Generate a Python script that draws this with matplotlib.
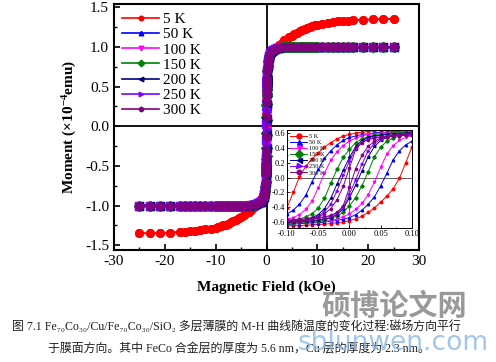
import numpy as np
import matplotlib.pyplot as plt
from matplotlib.ticker import MultipleLocator

plt.rcParams['font.family'] = ['Liberation Serif', 'Noto Sans CJK SC', 'DejaVu Sans']
plt.rcParams['axes.unicode_minus'] = False
plt.rcParams['mathtext.fontset'] = 'custom'
plt.rcParams['mathtext.rm'] = 'Liberation Serif'
plt.rcParams['mathtext.bf'] = 'Liberation Serif:bold'

temps = ['5 K', '50 K', '100 K', '150 K', '200 K', '250 K', '300 K']
colors = ['#ff0000', '#0000ff', '#ff00ff', '#008000', '#000080', '#7f00ff', '#800080']
markers = ['o', '^', 'v', 'D', '<', '>', 'h']

# high-field part of the M-H curves (kOe, x1e-4 emu), positive half
field_high = [0.15, 0.2, 0.3, 0.4, 0.5, 0.7, 1.0, 1.3, 1.6, 2.0, 2.5, 3.0, 3.5, 4.0,
              4.5, 5.0, 5.5, 6.0, 6.5, 7.0, 7.5, 8.0, 8.5, 9.0, 9.5, 10, 11, 12,
              13, 14, 15, 16, 17, 19, 21, 23, 25]
moment_5K = [0.70, 0.75, 0.80, 0.83, 0.86, 0.89, 0.92, 0.94, 0.96, 0.99, 1.02, 1.05,
             1.08, 1.10, 1.12, 1.14, 1.16, 1.18, 1.20, 1.21, 1.23, 1.24, 1.25, 1.26,
             1.27, 1.28, 1.29, 1.30, 1.31, 1.32, 1.325, 1.33, 1.335, 1.34, 1.345,
             1.35, 1.35]
moment_rest = [0.70, 0.76, 0.82, 0.86, 0.89, 0.92, 0.95, 0.96, 0.97, 0.98, 0.99, 0.995,
               1.0, 1.0, 1.0, 1.0, 1.0, 1.0, 1.0, 1.0, 1.0, 1.0, 1.0, 1.0, 1.0, 1.0,
               1.0, 1.0, 1.0, 1.0, 1.0, 1.0, 1.0, 1.0, 1.0, 1.0, 1.0]

# low-field loop, descending branch (kOe)
loop_field = [0.10, 0.09, 0.08, 0.07, 0.06, 0.05, 0.04, 0.03, 0.02, 0.01, 0.00,
              -0.01, -0.02, -0.03, -0.04, -0.05, -0.06, -0.07, -0.08, -0.09, -0.10]
loop_5K = [0.65, 0.65, 0.65, 0.64, 0.64, 0.63, 0.63, 0.62, 0.61, 0.60, 0.58,
           0.56, 0.52, 0.47, 0.41, 0.33, 0.25, 0.15, 0.01, -0.20, -0.41]
loop_50K = [0.63, 0.63, 0.62, 0.62, 0.61, 0.61, 0.60, 0.59, 0.58, 0.56, 0.54,
            0.50, 0.44, 0.36, 0.26, 0.11, -0.06, -0.24, -0.36, -0.44, -0.49]
loop_100K = [0.62, 0.62, 0.61, 0.61, 0.60, 0.60, 0.59, 0.58, 0.56, 0.53, 0.49,
             0.43, 0.35, 0.23, 0.06, -0.14, -0.32, -0.43, -0.50, -0.54, -0.56]
loop_150K = [0.61, 0.61, 0.60, 0.60, 0.59, 0.58, 0.57, 0.55, 0.52, 0.47, 0.38,
             0.27, 0.11, -0.08, -0.28, -0.41, -0.49, -0.53, -0.56, -0.57, -0.58]
loop_200K = [0.60, 0.60, 0.59, 0.59, 0.58, 0.57, 0.56, 0.54, 0.50, 0.42, 0.27,
             0.10, -0.09, -0.28, -0.42, -0.50, -0.54, -0.56, -0.58, -0.59, -0.59]
loop_250K = [0.58, 0.58, 0.57, 0.57, 0.56, 0.55, 0.54, 0.52, 0.48, 0.40, 0.22,
             0.03, -0.18, -0.36, -0.46, -0.52, -0.55, -0.57, -0.58, -0.59, -0.60]
loop_300K = [0.57, 0.57, 0.56, 0.56, 0.55, 0.54, 0.53, 0.51, 0.47, 0.38, 0.13,
             -0.12, -0.30, -0.42, -0.49, -0.53, -0.55, -0.57, -0.58, -0.59, -0.60]

high_list = [moment_5K] + [moment_rest] * 6
loop_list = [loop_5K, loop_50K, loop_100K, loop_150K, loop_200K, loop_250K, loop_300K]

fig = plt.figure(figsize=(4.96, 3.62), dpi=100)
ax = fig.add_axes([0.2298, 0.3094, 0.615, 0.6796])

ax.axhline(0, color='k', lw=1.3, zorder=1)
ax.axvline(0, color='k', lw=1.3, zorder=1)

fh = np.array(field_high)
lf = np.array(loop_field)
for i in range(len(temps)):
    mh = np.array(high_list[i])
    lm = np.array(loop_list[i])
    h_down = np.concatenate([fh[::-1], lf, -fh])
    m_down = np.concatenate([mh[::-1], lm, -mh])
    ax.plot(h_down, m_down, color=colors[i], marker=markers[i], ms=5.5, lw=1.2,
            label=temps[i], zorder=2)
    ax.plot(-h_down, -m_down, color=colors[i], marker=markers[i], ms=5.5, lw=1.2,
            zorder=2)

ax.set_xlim(-30, 30)
ax.set_ylim(-1.56, 1.54)
ax.xaxis.set_major_locator(MultipleLocator(10))
ax.xaxis.set_minor_locator(MultipleLocator(5))
ax.yaxis.set_major_locator(MultipleLocator(0.5))
ax.yaxis.set_minor_locator(MultipleLocator(0.25))
ax.yaxis.set_major_formatter(plt.FormatStrFormatter('%.1f'))
ax.tick_params(which='both', direction='in', top=False, right=False, labelsize=11)
ax.tick_params(which='major', length=4, width=1.2)
ax.tick_params(which='minor', length=2.5, width=1.0)
for s in ax.spines.values():
    s.set_linewidth(1.5)
ax.set_xlabel('Magnetic Field (kOe)', fontsize=11, fontweight='bold', labelpad=9)
ax.set_ylabel(r'Moment (×10$\mathbf{^{-4}}$emu)', fontsize=11, fontweight='bold',
              labelpad=4)
ax.legend(loc='upper left', fontsize=11, frameon=False, handlelength=2.4,
          labelspacing=0.1, borderaxespad=0.15, handletextpad=0.25, markerscale=0.6)

# inset: low-field loops
ax_in = fig.add_axes([0.5786, 0.3702, 0.252, 0.2707])
ax_in.axhline(0, color='#444444', lw=0.6, zorder=1)
ax_in.axvline(0, color='#444444', lw=0.6, zorder=1)
for i in range(len(temps)):
    lm = np.array(loop_list[i])
    ax_in.plot(lf, lm, color=colors[i], marker=markers[i], ms=1.8, lw=0.7,
               label=temps[i], zorder=2)
    ax_in.plot(-lf, -lm, color=colors[i], marker=markers[i], ms=1.8, lw=0.7, zorder=2)
ax_in.set_xlim(-0.1, 0.1)
ax_in.set_ylim(-0.68, 0.64)
ax_in.xaxis.set_major_locator(MultipleLocator(0.05))
ax_in.xaxis.set_minor_locator(MultipleLocator(0.025))
ax_in.yaxis.set_major_locator(MultipleLocator(0.2))
ax_in.yaxis.set_minor_locator(MultipleLocator(0.1))
ax_in.xaxis.set_major_formatter(plt.FormatStrFormatter('%.2f'))
ax_in.yaxis.set_major_formatter(plt.FormatStrFormatter('%.1f'))
ax_in.tick_params(which='both', direction='in', labelsize=6, pad=1.5)
ax_in.tick_params(which='major', length=2, width=0.6)
ax_in.tick_params(which='minor', length=1, width=0.5)
for s in ax_in.spines.values():
    s.set_linewidth(0.7)
ax_in.legend(loc='upper left', fontsize=4.5, frameon=False, handlelength=2.6,
             labelspacing=0.12, borderaxespad=0.15, handletextpad=0.3, markerscale=2.0)

# caption
cap1 = '图 7.1 Fe₇₀Co₃₀/Cu/Fe₇₀Co₃₀/SiO₂ 多层薄膜的 M-H 曲线随温度的变化过程:磁场方向平行'
cap2 = '于膜面方向。其中 FeCo 合金层的厚度为 5.6 nm，Cu 层的厚度为 2.3 nm。'
fig.text(12 / 496, 1 - 327 / 362, cap1, fontsize=8.6, va='center', ha='left',
         color='#222222')
fig.text(48 / 496, 1 - 349 / 362, cap2, fontsize=8.6, va='center', ha='left',
         color='#222222')

# watermark
fig.text(394 / 496, 1 - 306 / 362, '硕博论文网', fontsize=21, fontweight='bold',
         family=['Noto Sans CJK SC'], color='#777777', alpha=0.75, ha='center',
         va='center')
fig.text(393 / 496, 1 - 343 / 362, 'sblunwen.com', fontsize=19, family=['DejaVu Sans'],
         color='#8ab8e6', alpha=0.8, ha='center', va='center')

fig.savefig('out.png', dpi=100)
